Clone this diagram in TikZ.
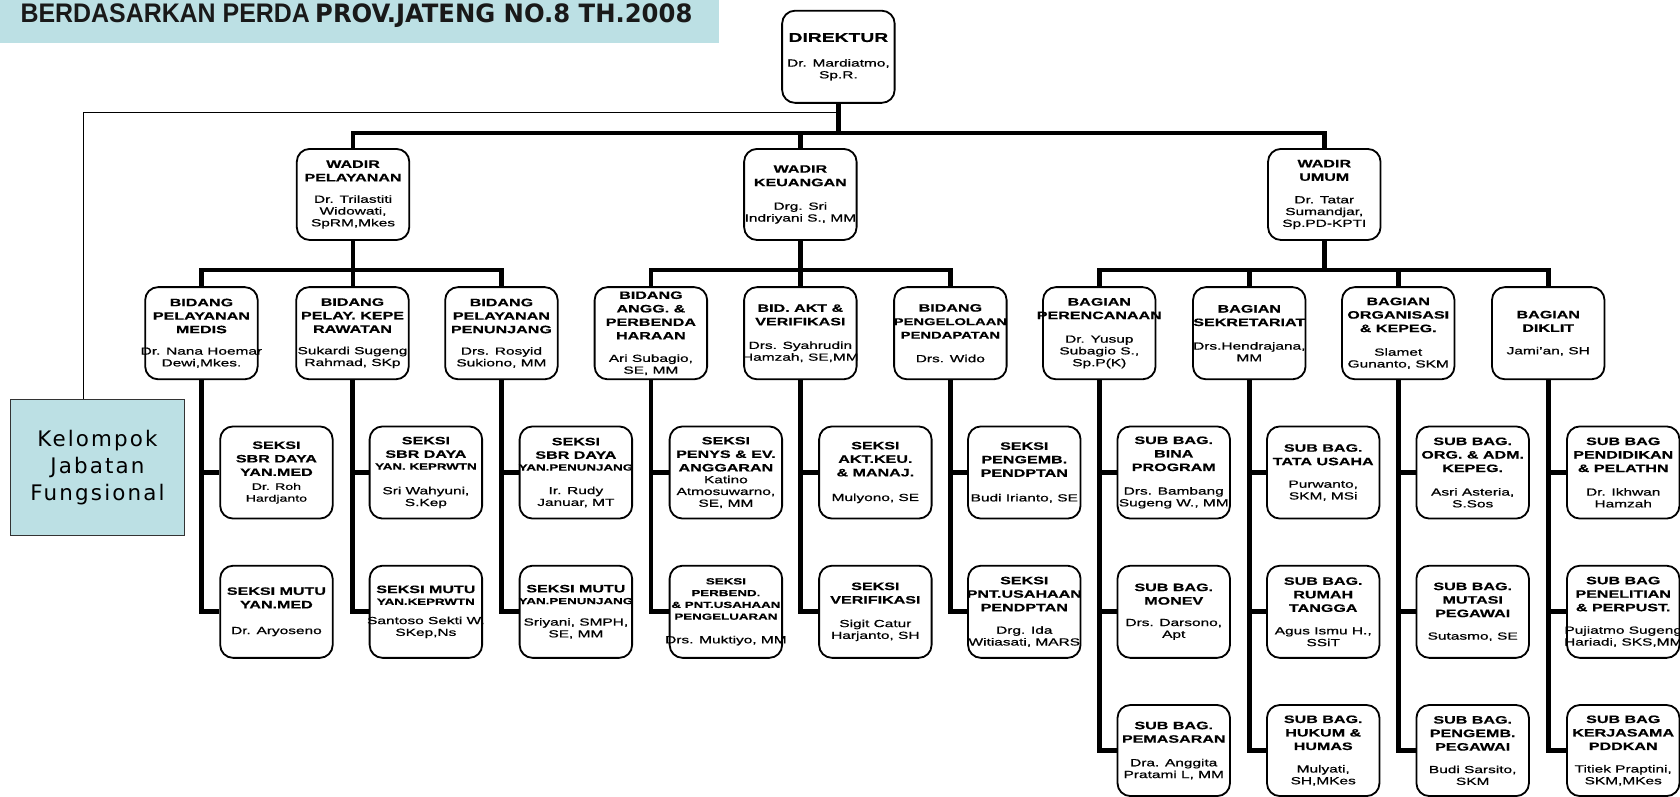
\documentclass[tikz,border=0pt]{standalone}
\usepackage{fontspec}
\usepackage{graphicx}
\newfontfamily\ttlfont{Liberation Sans}[FakeStretch=1.5, FakeBold=0.6]
\newfontfamily\nmfont{Liberation Sans}[FakeStretch=1.5, FakeBold=0.8]
\newfontfamily\kfont{DejaVu Sans}[LetterSpace=10]
\newfontfamily\banA{Liberation Sans}
\newfontfamily\banB{DejaVu Sans Condensed}
\definecolor{banner}{HTML}{BCE0E4}
\definecolor{kelborder}{HTML}{333333}
\newcommand\TB[1]{{\ttlfont\bfseries\fontsize{12}{14}\selectfont #1\par}}
\newcommand\TT[1]{{\ttlfont\bfseries\fontsize{10}{12.6}\selectfont #1\par}}
\newcommand\TS[1]{{\ttlfont\bfseries\fontsize{8.3}{11}\selectfont #1\par}}
\newcommand\NM[2][9]{\vspace{#1pt}{\nmfont\fontsize{9.6}{11}\selectfont #2\par}}
\newcommand\NS[2][9]{\vspace{#1pt}{\nmfont\fontsize{8.8}{11}\selectfont #2\par}}
\newcommand\bxt[3][-4]{\raisebox{#1pt}{\makebox[0pt]{\parbox{150pt}{\centering #2#3}}}}
\tikzset{
  box/.style={draw, line width=1.7pt, rounded corners=12pt, minimum width=105pt,
    minimum height=86pt, inner sep=0pt, fill=white},
  conn/.style={line width=4.3pt, line join=miter},
  thinln/.style={line width=1.3pt},
  kel/.style={draw=kelborder, line width=1pt, fill=banner, minimum width=162pt,
    minimum height=127pt, inner sep=0pt},
}
\begin{document}
\begin{tikzpicture}[x=1pt,y=-1pt]
\useasboundingbox (0,0) rectangle (1568,743);
% banner
\node[fill=banner, minimum width=671pt, minimum height=40pt, anchor=north west, inner sep=0pt] (banner) at (0,0) {};
\node[anchor=base west, inner sep=0pt, text=black!90] (ban1) at (19,21) {\resizebox{270pt}{17.5pt}{\banA\bfseries BERDASARKAN PERDA}};
\node[anchor=base west, inner sep=0pt, text=black!90] (ban2) at (294,21) {\resizebox{352pt}{17.5pt}{\banB\bfseries PROV.JATENG NO.8 TH.2008}};

% level 1-2
\node[box] (dir) at (782.5,53) {\bxt{\TB{DIREKTUR}}{\NM[12]{Dr. Mardiatmo,\\Sp.R.}}};
\node[box, minimum height=85pt] (wp) at (329.5,181.5) {\bxt{\TT{WADIR\\PELAYANAN}}{\NM[9]{Dr. Trilastiti\\Widowati,\\SpRM,Mkes}}};
\node[box, minimum height=85pt] (wk) at (747,181.5) {\bxt{\TT{WADIR\\KEUANGAN}}{\NM[11]{Drg. Sri\\Indriyani S., MM}}};
\node[box, minimum height=85pt] (wu) at (1236,181.5) {\bxt{\TT{WADIR\\UMUM}}{\NM[10]{Dr. Tatar\\Sumandjar,\\Sp.PD-KPTI}}};

% level 3
\node[box] (b1) at (188,311) {\bxt{\TT{BIDANG\\PELAYANAN\\MEDIS}}{\NM[9]{Dr. Nana Hoemar\\Dewi,Mkes.}}};
\node[box] (b2) at (329,311) {\bxt{\TT{BIDANG\\PELAY. KEPE\\RAWATAN}}{\NM[9]{Sukardi Sugeng\\Rahmad, SKp}}};
\node[box] (b3) at (468,311) {\bxt{\TT{BIDANG\\PELAYANAN\\PENUNJANG}}{\NM[9]{Drs. Rosyid\\Sukiono, MM}}};
\node[box] (b4) at (607.5,311) {\bxt[-8]{\TT{BIDANG\\ANGG. \&\\PERBENDA\\HARAAN}}{\NM[10]{Ari Subagio,\\SE, MM}}};
\node[box] (b5) at (747,311) {\bxt{\TT{BID. AKT \&\\VERIFIKASI}}{\NM[11]{Drs. Syahrudin\\Hamzah, SE,MM}}};
\node[box] (b6) at (887,311) {\bxt{\TT{BIDANG}{\ttlfont\bfseries\fontsize{9.2}{12.6}\selectfont PENGELOLAAN\\PENDAPATAN\par}}{\NM[11]{Drs. Wido}}};
\node[box] (b7) at (1026,311) {\bxt{\TT{BAGIAN\\PERENCANAAN}}{\NM[11]{Dr. Yusup\\Subagio S.,\\Sp.P(K)}}};
\node[box] (b8) at (1166,311) {\bxt{\TT{BAGIAN\\SEKRETARIAT}}{\NM[11]{Drs.Hendrajana,\\MM}}};
\node[box] (b9) at (1305,311) {\bxt{\TT{BAGIAN\\ORGANISASI\\\& KEPEG.}}{\NM[11]{Slamet\\Gunanto, SKM}}};
\node[box] (b10) at (1445,311) {\bxt{\TT{BAGIAN\\DIKLIT}}{\NM[10]{Jami’an, SH}}};

% level 4 row 1
\node[box] (s1a) at (258,441) {\bxt{\TT{SEKSI\\SBR DAYA\\YAN.MED}}{\NS[2]{Dr. Roh\\Hardjanto}}};
\node[box] (s2a) at (397.5,441) {\bxt{\TT{SEKSI\\SBR DAYA}\TS{YAN. KEPRWTN}}{\NM[12]{Sri Wahyuni,\\S.Kep}}};
\node[box] (s3a) at (537.5,441) {\bxt[3]{\TT{SEKSI\\SBR DAYA}\TS{YAN.PENUNJANG}}{\NM[11]{Ir. Rudy\\Januar, MT}}};
\node[box] (s4a) at (677.5,441) {\bxt{\TT{SEKSI\\PENYS \& EV.\\ANGGARAN}}{\NM[0]{Katino\\Atmosuwarno,\\SE, MM}}};
\node[box] (s5a) at (817,441) {\bxt{\TT{SEKSI\\AKT.KEU.\\\& MANAJ.}}{\NM[12]{Mulyono, SE}}};
\node[box] (s6a) at (956,441) {\bxt{\TT{SEKSI\\PENGEMB.\\PENDPTAN}}{\NM[12]{Budi Irianto, SE}}};
\node[box] (s7a) at (1095.5,441) {\bxt{\TT{SUB BAG.\\BINA\\PROGRAM}}{\NM[11]{Drs. Bambang\\Sugeng W., MM}}};
\node[box] (s8a) at (1235,441) {\bxt{\TT{SUB BAG.\\TATA USAHA}}{\NM[10]{Purwanto,\\SKM, MSi}}};
\node[box] (s9a) at (1374.5,441) {\bxt{\TT{SUB BAG.\\ORG. \& ADM.\\KEPEG.}}{\NM[11]{Asri Asteria,\\S.Sos}}};
\node[box] (s10a) at (1515,441) {\bxt{\TT{SUB BAG\\PENDIDIKAN\\\& PELATHN}}{\NM[11]{Dr. Ikhwan\\Hamzah}}};

% level 4 row 2
\node[box] (s1b) at (258,571) {\bxt{\TT{SEKSI MUTU\\YAN.MED}}{\NM[13]{Dr. Aryoseno}}};
\node[box] (s2b) at (397.5,571) {\bxt{\TT{SEKSI MUTU}\TS{YAN.KEPRWTN}}{\NM[7]{Santoso Sekti W.\\SKep,Ns}}};
\node[box] (s3b) at (537.5,571) {\bxt{\TT{SEKSI MUTU}\TS{YAN.PENUNJANG}}{\NM[9]{Sriyani, SMPH,\\SE, MM}}};
\node[box] (s4b) at (677.5,571) {\bxt{\TS{SEKSI\\PERBEND.\\\& PNT.USAHAAN\\PENGELUARAN}}{\NM[11]{Drs. Muktiyo, MM}}};
\node[box] (s5b) at (817,571) {\bxt{\TT{SEKSI\\VERIFIKASI}}{\NM[11]{Sigit Catur\\Harjanto, SH}}};
\node[box] (s6b) at (956,571) {\bxt[7]{\TT{SEKSI\\PNT.USAHAAN\\PENDPTAN}}{\NM[10]{Drg. Ida\\Witiasati, MARS}}};
\node[box] (s7b) at (1095.5,571) {\bxt{\TT{SUB BAG.\\MONEV}}{\NM[9]{Drs. Darsono,\\Apt}}};
\node[box] (s8b) at (1235,571) {\bxt{\TT{SUB BAG.\\RUMAH\\TANGGA}}{\NM[10]{Agus Ismu H.,\\SSiT}}};
\node[box] (s9b) at (1374.5,571) {\bxt{\TT{SUB BAG.\\MUTASI\\PEGAWAI}}{\NM[10]{Sutasmo, SE}}};
\node[box] (s10b) at (1515,571) {\bxt{\TT{SUB BAG\\PENELITIAN\\\& PERPUST.}}{\NM[10]{Pujiatmo Sugeng\\Hariadi, SKS,MM}}};

% level 4 row 3
\node[box, minimum height=85pt] (s7c) at (1095.5,700.5) {\bxt{\TT{SUB BAG.\\PEMASARAN}}{\NM[11]{Dra. Anggita\\Pratami L, MM}}};
\node[box, minimum height=85pt] (s8c) at (1235,700.5) {\bxt{\TT{SUB BAG.\\HUKUM \&\\HUMAS}}{\NM[10]{Mulyati,\\SH,MKes}}};
\node[box, minimum height=85pt] (s9c) at (1374.5,700.5) {\bxt{\TT{SUB BAG.\\PENGEMB.\\PEGAWAI}}{\NM[10]{Budi Sarsito,\\SKM}}};
\node[box, minimum height=85pt] (s10c) at (1515,700.5) {\bxt{\TT{SUB BAG\\KERJASAMA\\PDDKAN}}{\NM[10]{Titiek Praptini,\\SKM,MKes}}};

% Kelompok Jabatan Fungsional
\node[kel] (kel) at (91,436.5) {\raisebox{-10pt}{\makebox[0pt]{\parbox{160pt}{\centering\kfont\fontsize{20}{25}\selectfont Kelompok\\Jabatan\\Fungsional}}}};

% connectors
\coordinate (bar0) at (783,124);
\coordinate (kc) at (78,105);
\draw[thinln] (dir.south |- kc) -- (kc) -- (kc |- kel.north);
\draw[conn] (dir.south) -- (dir.south |- bar0);
\draw[conn] (wp.north) |- (bar0) -| (wu.north);
\draw[conn] (wk.north) -- (wk.north |- bar0);

\draw[conn] (b1.north) -- ++(0,-15) -| (b3.north);
\draw[conn] (wp.south) -- (wp.south |- b2.north);
\draw[conn] (b4.north) -- ++(0,-15) -| (b6.north);
\draw[conn] (wk.south) -- (wk.south |- b5.north);
\draw[conn] (b7.north) -- ++(0,-15) -| (b10.north);
\draw[conn] (wu.south) -- ++(0,29);
\draw[conn] (b8.north) -- ++(0,-15);
\draw[conn] (b9.north) -- ++(0,-15);

\foreach \pp/\cc in {b1/s1, b2/s2, b3/s3, b4/s4, b5/s5, b6/s6}{
  \draw[conn] (\pp.south) |- (\cc b.west);
  \draw[conn] (\cc a.west -| \pp.south) -- (\cc a.west);
}
\foreach \pp/\cc in {b7/s7, b8/s8, b9/s9, b10/s10}{
  \draw[conn] (\pp.south) |- (\cc c.west);
  \draw[conn] (\cc a.west -| \pp.south) -- (\cc a.west);
  \draw[conn] (\cc b.west -| \pp.south) -- (\cc b.west);
}
\end{tikzpicture}
\end{document}
